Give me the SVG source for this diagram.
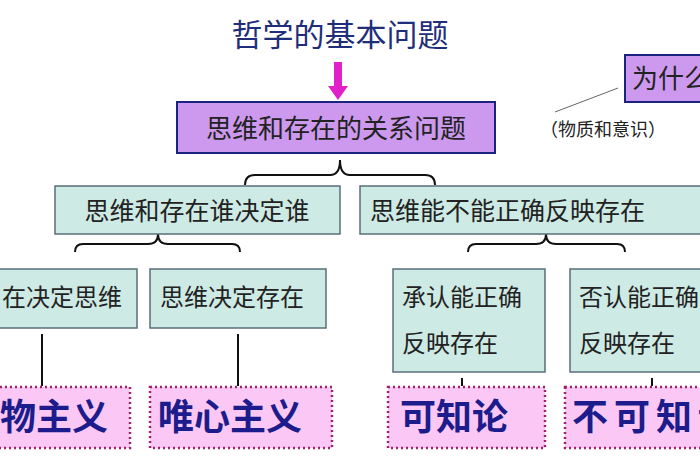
<svg xmlns="http://www.w3.org/2000/svg" width="700" height="470" viewBox="0 0 700 470">
<defs><style>
.t{font-family:"Noto Sans CJK SC","Liberation Sans",sans-serif;fill:#222}
.pu{fill:#cc99ee;stroke:#1a237e;stroke-width:2}
.gr{fill:#cdeae4;stroke:#5a6e7a;stroke-width:1.5}
.pk{fill:#fbc8f5;stroke:#a0206a;stroke-width:2.5;stroke-dasharray:2 3}
.big{font-family:"Noto Sans CJK SC",sans-serif;font-weight:bold;font-size:36px;fill:#1c1c8c}
.ln{stroke:#111;stroke-width:2;fill:none}
</style></defs>
<rect width="700" height="470" fill="#fff"/>
<g id="title"><text x="340" y="46" text-anchor="middle" class="t" style="fill:#1f2d7a;font-size:31px">哲学的基本问题</text></g>
<g id="connectors">
<path d="M334 62h8v24h6l-10 14l-10-14h6z" fill="#e020c8"/>
<path class="ln" d="M245 185q0-10 10-10h75q10 0 10-15q0 15 10 15h75q10 0 10 10"/>
<path class="ln" d="M75 252q0-8 8-8h65q10 0 10-10q0 10 10 10h64q8 0 8 8"/>
<path class="ln" d="M468 252q0-8 8-8h60q10 0 10-10q0 10 10 10h61q8 0 8 8"/>
<line x1="555" y1="112" x2="618" y2="88" stroke="#666" stroke-width="1"/>
<path class="ln" d="M42 334V386M238 334V386M462 378V386M652 378V386"/>
</g>
<g id="n1"><rect class="pu" x="177" y="102" width="318" height="51"/><text class="t" x="336" y="138" text-anchor="middle" font-size="26">思维和存在的关系问题</text></g>
<g id="n2"><rect class="pu" x="625" y="55" width="90" height="47"/><text class="t" x="632" y="88" font-size="26">为什么</text></g>
<text class="t" x="540" y="136" font-size="18">（物质和意识）</text>
<g id="n3"><rect class="gr" x="55" y="186" width="285" height="48"/><text class="t" x="197" y="220" text-anchor="middle" font-size="25">思维和存在谁决定谁</text></g>
<g id="n4"><rect class="gr" x="360" y="186" width="345" height="48"/><text class="t" x="370" y="220" font-size="25">思维能不能正确反映存在</text></g>
<g id="n5"><rect class="gr" x="-5" y="269" width="142" height="59"/><text class="t" x="2" y="306" font-size="24">在决定思维</text></g>
<g id="n6"><rect class="gr" x="150" y="269" width="176" height="59"/><text class="t" x="160" y="306" font-size="24">思维决定存在</text></g>
<g id="n7"><rect class="gr" x="393" y="269" width="152" height="103"/><text class="t" x="402" y="306" font-size="24">承认能正确</text><text class="t" x="402" y="352" font-size="24">反映存在</text></g>
<g id="n8"><rect class="gr" x="570" y="269" width="140" height="103"/><text class="t" x="579" y="306" font-size="24">否认能正确</text><text class="t" x="579" y="352" font-size="24">反映存在</text></g>
<g id="n9"><rect class="pk" x="-5" y="387" width="135" height="61"/><text class="big" x="0" y="430">物主义</text></g>
<g id="n10"><rect class="pk" x="150" y="387" width="182" height="61"/><text class="big" x="158" y="430">唯心主义</text></g>
<g id="n11"><rect class="pk" x="388" y="387" width="157" height="61"/><text class="big" x="400" y="430">可知论</text></g>
<g id="n12"><rect class="pk" x="565" y="387" width="145" height="61"/><text class="big" x="572" y="430" style="letter-spacing:6px">不可知论</text></g>
</svg>
